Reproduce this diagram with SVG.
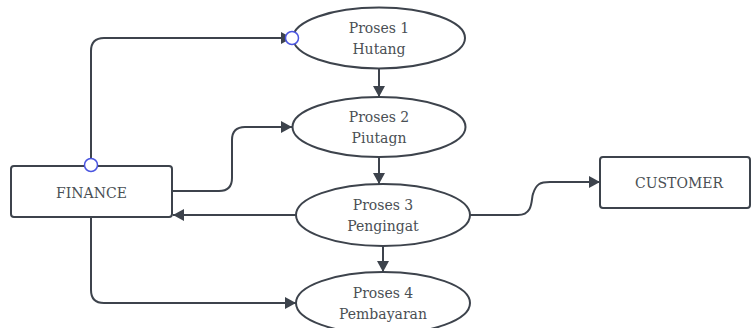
<svg xmlns="http://www.w3.org/2000/svg" width="752" height="328" viewBox="0 0 752 328">
<style>
.shape{fill:#ffffff;stroke:#3d434c;stroke-width:2}
.lbl{font-family:"DejaVu Serif","Liberation Serif",serif;font-size:14px;fill:#4a4f54;text-anchor:middle}
.edge{fill:none;stroke:#3d434c;stroke-width:2}
.port{fill:#ffffff;stroke:#4a55e0;stroke-width:1.5}
</style>
<defs>
<marker id="arr" markerUnits="userSpaceOnUse" markerWidth="12" markerHeight="12" refX="11" refY="6" orient="auto">
<path d="M0,0 L11,6 L0,12 z" fill="#3d434c"/>
</marker>
</defs>
<rect width="752" height="328" fill="#ffffff"/>
<g id="connectors">
<path class="edge" d="M91,165 V51 Q91,38 104,38 H292" marker-end="url(#arr)"/>
<path class="edge" d="M172,191 H219 Q232,191 232,178 V140 Q232,127 245,127 H292" marker-end="url(#arr)"/>
<path class="edge" d="M379,68 V97" marker-end="url(#arr)"/>
<path class="edge" d="M379,157 V184" marker-end="url(#arr)"/>
<path class="edge" d="M296,215 H173" marker-end="url(#arr)"/>
<path class="edge" d="M383,246 V272" marker-end="url(#arr)"/>
<path class="edge" d="M91,217 V290 Q91,303 104,303 H296" marker-end="url(#arr)"/>
<path class="edge" d="M470,215 H518 C534,215 531,198 533,194 C536,184 540,182 550,182 H600" marker-end="url(#arr)"/>
</g>
<g id="finance">
<rect class="shape" x="11" y="166" width="161" height="51" rx="3"/>
<text class="lbl" x="91.5" y="197.5">FINANCE</text>
</g>
<g id="customer">
<rect class="shape" x="600" y="157" width="150" height="51" rx="3"/>
<text class="lbl" x="679" y="187.5">CUSTOMER</text>
</g>
<g id="proses1">
<ellipse class="shape" cx="379" cy="38" rx="86" ry="30.5"/>
<text class="lbl" x="379" y="33">Proses 1</text>
<text class="lbl" x="379" y="53.5">Hutang</text>
</g>
<g id="proses2">
<ellipse class="shape" cx="379" cy="127" rx="86.5" ry="30"/>
<text class="lbl" x="379" y="122">Proses 2</text>
<text class="lbl" x="379" y="142.5">Piutagn</text>
</g>
<g id="proses3">
<ellipse class="shape" cx="383" cy="215" rx="87" ry="31"/>
<text class="lbl" x="383" y="210">Proses 3</text>
<text class="lbl" x="383" y="231">Pengingat</text>
</g>
<g id="proses4">
<ellipse class="shape" cx="383" cy="303" rx="87" ry="31"/>
<text class="lbl" x="383" y="298">Proses 4</text>
<text class="lbl" x="383" y="319">Pembayaran</text>
</g>
<g id="ports">
<circle class="port" cx="91" cy="165" r="6.5"/>
<circle class="port" cx="292" cy="38" r="6.5"/>
</g>
</svg>
